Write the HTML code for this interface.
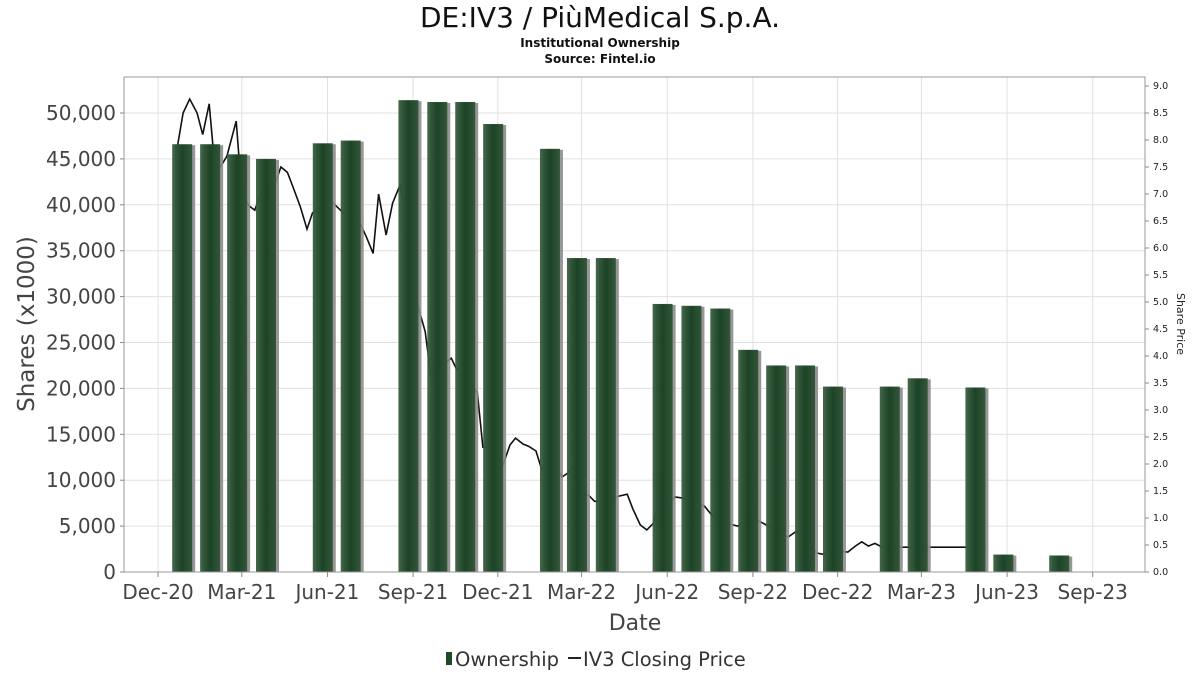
<!DOCTYPE html>
<html><head><meta charset="utf-8"><style>
body{margin:0;background:#fff;font-family:"DejaVu Sans","Liberation Sans",sans-serif;}
svg text{font-family:"DejaVu Sans","Liberation Sans",sans-serif;}
</style></head><body>
<svg id="c" width="1200" height="675" xmlns="http://www.w3.org/2000/svg">
<defs>
<linearGradient id="bg" x1="0" x2="1" y1="0" y2="0">
<stop offset="0" stop-color="#3a5e40"/><stop offset="0.5" stop-color="#163f20"/><stop offset="1" stop-color="#2f5236"/>
</linearGradient>
</defs>
<text x="600" y="27" text-anchor="middle" font-size="28" fill="#111">DE:IV3 / PiùMedical S.p.A.</text>
<text x="600" y="47" text-anchor="middle" font-size="12" font-weight="bold" fill="#111">Institutional Ownership</text>
<text x="600" y="63" text-anchor="middle" font-size="12" font-weight="bold" fill="#111">Source: Fintel.io</text>
<g id="grid"></g><g id="line"></g><g id="bars"></g><g id="axes"></g>
<text transform="translate(34,324) rotate(-90)" text-anchor="middle" font-size="23" fill="#444">Shares (x1000)</text>
<text transform="translate(1177,324) rotate(90)" text-anchor="middle" font-size="11" fill="#222">Share Price</text>
<text x="635" y="630" text-anchor="middle" font-size="22" fill="#444">Date</text>
<g>
<rect x="446" y="652" width="6" height="13" fill="#1e4a28"/>
<text x="455" y="666" font-size="19.5" fill="#333">Ownership</text>
<line x1="568" y1="658" x2="581" y2="658" stroke="#222" stroke-width="2"/>
<text x="583" y="666" font-size="19.5" fill="#333">IV3 Closing Price</text>
</g>
</svg>
<script>
// days since 2020-12-01
const barDays=[26,56,85,116,177,207,269,300,330,360,421,450,481,542,573,604,634,664,695,725,786,816,878,908,968];
const barValues=[46600,46600,45500,45000,46700,47000,51400,51200,51200,48800,46100,34200,34200,29200,29000,28700,24200,22500,22500,20200,20200,21100,20100,1900,1800];
const priceDays=[21,27,34,42,48,55,59,67,74,84,90,98,104,110,124,132,139,145,153,160,166,177,187,199,209,224,231,237,245,252,260,278,287,293,301,308,315,321,328,335,343,349,357,371,378,384,392,398,406,412,424,434,440,448,455,462,469,480,494,504,510,518,525,532,539,547,555,563,574,587,595,604,623,636,647,660,677,686,695,708,714,725,741,749,756,763,770,778,869];
const priceValues=[7.9,8.5,8.76,8.5,8.1,8.67,7.9,7.5,7.7,8.35,7.0,6.78,6.7,7.0,7.1,7.5,7.4,7.13,6.76,6.35,6.65,6.76,6.85,6.65,6.76,6.2,5.9,7.0,6.24,6.83,7.17,5.0,4.45,3.65,3.9,3.87,3.96,3.74,3.87,3.5,3.33,2.31,2.3,2.0,2.35,2.48,2.37,2.33,2.24,1.9,2.07,1.76,1.83,2.0,1.4,1.43,1.31,1.31,1.4,1.44,1.17,0.87,0.78,0.9,1.39,1.2,1.39,1.37,1.31,1.22,1.05,0.93,0.85,1.02,0.93,0.81,0.65,0.76,0.54,0.35,0.33,0.39,0.37,0.48,0.56,0.48,0.53,0.46,0.46];
const xTickLabels=["Dec-20","Mar-21","Jun-21","Sep-21","Dec-21","Mar-22","Jun-22","Sep-22","Dec-22","Mar-23","Jun-23","Sep-23"];
const xTickDays=[0,90,182,274,365,455,547,639,730,820,912,1004];
const yTicks=[0,5000,10000,15000,20000,25000,30000,35000,40000,45000,50000];
const y2Ticks=[0,0.5,1,1.5,2,2.5,3,3.5,4,4.5,5,5.5,6,6.5,7,7.5,8,8.5,9];

const L=124,R=1145,T=77,B=572;
const X=d=>158+d*0.931;
const Y=v=>B-v*0.00918;
const Y2=v=>B-v*54;
const NS="http://www.w3.org/2000/svg";
function mk(tag,attrs,parent){const e=document.createElementNS(NS,tag);for(const k in attrs)e.setAttribute(k,attrs[k]);document.getElementById(parent).appendChild(e);return e;}

mk('rect',{x:L,y:T,width:R-L,height:B-T,fill:'none',stroke:'#999'},'axes');
yTicks.forEach(v=>{
  const g=mk('line',{x1:L,x2:R,y1:Y(v),y2:Y(v),stroke:'#e0e0e0'},'grid');
  
  
  mk('line',{x1:L-4,x2:L,y1:Y(v),y2:Y(v),stroke:'#888'},'axes');
  const t=mk('text',{x:L-8,y:Y(v)+7,'text-anchor':'end','font-size':20,fill:'#444'},'axes');
  t.textContent=v.toLocaleString('en-US');
  
  
});
y2Ticks.forEach(v=>{
  mk('line',{x1:R,x2:R+4,y1:Y2(v),y2:Y2(v),stroke:'#888'},'axes');
  const t=mk('text',{x:R+8,y:Y2(v)+3,'font-size':9.5,fill:'#222'},'axes');
  t.textContent=v.toFixed(1);
  
  
});
xTickDays.forEach((d,i)=>{
  const g=mk('line',{x1:X(d),x2:X(d),y1:T,y2:B,stroke:'#e0e0e0'},'grid');
  
  
  mk('line',{x1:X(d),x2:X(d),y1:B,y2:B+5,stroke:'#888'},'axes');
  const t=mk('text',{x:X(d),y:599,'text-anchor':'middle','font-size':20,fill:'#444'},'axes');
  t.textContent=xTickLabels[i];
  
  
});
const pts=priceDays.map((d,i)=>X(d).toFixed(1)+','+Y2(priceValues[i]).toFixed(1)).join(' ');
const pl=mk('polyline',{points:pts,fill:'none',stroke:'#111','stroke-width':1.6},'line');


barDays.forEach((d,i)=>{
  const cx=X(d),y=Y(barValues[i]);
  mk('rect',{x:cx-10+3,y:y+1,width:20,height:B-y-1,fill:'#8c8c8c',opacity:0.9},'bars');
  const b=mk('rect',{x:cx-10,y:y,width:20,height:B-y,fill:'url(#bg)',opacity:0.95},'bars');
  
  
});
</script>
</body></html>
